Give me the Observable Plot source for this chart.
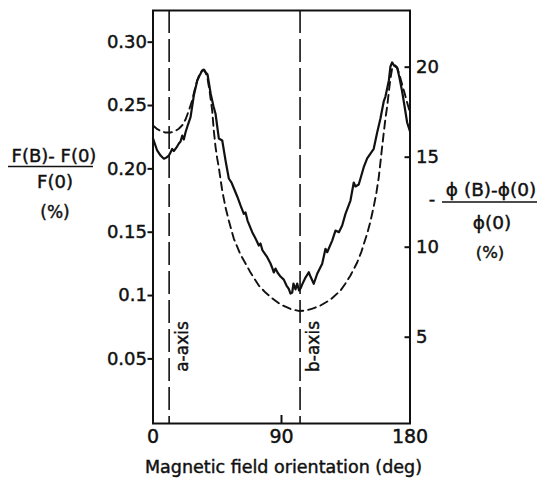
<!DOCTYPE html>
<html>
<head>
<meta charset="utf-8">
<script src="https://cdn.jsdelivr.net/npm/d3@7"></script>
<script src="https://cdn.jsdelivr.net/npm/@observablehq/plot@0.6"></script>
<style>
  html, body { margin: 0; padding: 0; background: #fff; }
  svg { display: block; }
  svg text { stroke: #111; stroke-width: 0.45px; }
</style>
</head>
<body>
<script>
// Solid curve: F(B)-F(0) / F(0) (%), left axis
const solidDeg = [0, 2.9, 5.3, 7.6, 9.5, 11.1, 12.3, 13.4, 14.6, 16.5, 18.1, 19.3, 20.5, 21.6, 22.8, 24.5, 26.3, 28.6, 31.0, 32.6, 34.5, 35.7, 36.8, 38.2, 40.4, 42.4, 43.8, 46.1, 48.5, 50.8, 53.1, 55.0, 56.4, 59.0, 61.3, 63.6, 64.8, 66.2, 69.5, 71.1, 72.5, 74.1, 75.3, 76.7, 80.0, 82.3, 83.7, 84.6, 85.8, 87.2, 89.3, 91.6, 93.5, 95.1, 96.3, 97.5, 98.4, 99.8, 101.0, 102.3, 103.3, 104.6, 106.8, 109.1, 110.3, 112.6, 115.0, 118.5, 120.8, 122.0, 125.5, 127.8, 130.2, 132.5, 134.8, 138.3, 140.6, 141.8, 144.1, 147.6, 150.0, 152.3, 154.6, 157.0, 159.3, 161.6, 162.8, 165.2, 166.3, 167.5, 168.8, 171.0, 172.6, 174.5, 176.1, 178.0, 180];
const solidVal = [0.224, 0.2145, 0.2105, 0.208, 0.209, 0.2105, 0.213, 0.2157, 0.2141, 0.2169, 0.220, 0.2216, 0.2263, 0.2232, 0.2289, 0.235, 0.2408, 0.2579, 0.2698, 0.2737, 0.2777, 0.2784, 0.2763, 0.2745, 0.2593, 0.2492, 0.2435, 0.2240, 0.2224, 0.2066, 0.1924, 0.1892, 0.1853, 0.1782, 0.1711, 0.1645, 0.1656, 0.1592, 0.150, 0.1466, 0.1435, 0.1395, 0.1411, 0.1356, 0.1303, 0.1253, 0.1213, 0.1182, 0.1213, 0.1182, 0.1150, 0.1126, 0.1079, 0.1053, 0.1016, 0.1024, 0.1095, 0.1048, 0.1095, 0.1040, 0.1056, 0.1090, 0.1142, 0.1184, 0.1150, 0.1093, 0.1172, 0.1251, 0.1369, 0.1342, 0.1434, 0.1513, 0.1500, 0.1553, 0.1645, 0.1750, 0.1892, 0.1861, 0.1877, 0.2013, 0.2082, 0.2121, 0.2158, 0.2287, 0.2398, 0.2532, 0.2571, 0.2698, 0.2808, 0.2840, 0.2816, 0.2800, 0.2721, 0.2611, 0.2500, 0.2366, 0.2295];

// Dashed curve: -(phi(B)-phi(0))/phi(0) (%), right axis
const dashDeg = [0, 2.45, 5.25, 8.75, 12.26, 15.06, 18.07, 20.66, 22.76, 24.87, 27.45, 29.07, 30.96, 32.57, 34.46, 36.07, 37.96, 39.57, 41.46, 42.58, 43.77, 44.96, 46.09, 48.47, 50.78, 53.09, 56.59, 61.28, 65.98, 68.29, 74.1, 78.79, 84.61, 89.3, 96.3, 102.1, 106.8, 111.7, 117.3, 124.3, 131.3, 134.8, 138.3, 143.0, 146.0, 150.0, 152.3, 154.6, 156.5, 158.1, 159.3, 160.5, 161.8, 162.8, 164.0, 165.3, 166.3, 167.5, 168.7, 169.8, 171.2, 172.6, 174.5, 176.1, 178.0, 180];
const dashVal = [16.76, 16.59, 16.46, 16.37, 16.37, 16.43, 16.58, 16.79, 17.09, 17.54, 18.15, 18.71, 19.26, 19.59, 19.82, 19.82, 19.48, 18.71, 17.59, 16.48, 15.59, 14.93, 14.43, 13.15, 12.21, 11.48, 10.48, 9.59, 8.93, 8.59, 7.87, 7.48, 7.09, 6.82, 6.57, 6.46, 6.48, 6.59, 6.76, 7.09, 7.59, 7.98, 8.43, 9.15, 9.76, 10.76, 11.43, 12.26, 13.04, 13.87, 14.71, 15.59, 16.48, 17.15, 17.82, 18.71, 19.37, 19.93, 20.09, 20.09, 19.93, 19.59, 19.04, 18.59, 18.04, 17.48];

const xTicks = [0, 90, 180];
const leftTicks = [0.05, 0.1, 0.15, 0.20, 0.25, 0.30];
const leftTickLabels = ["0.05", "0.1", "0.15", "0.20", "0.25", "0.30"];
const rightTicks = [5, 10, 15, 20];
const rightTickLabels = ["5", "10", "15", "20"];
const crystalAxes = [{deg: 11.3, label: "a-axis"}, {deg: 103, label: "b-axis"}];

// right-axis units mapped onto the left-axis scale (from the chart's two axes)
const rToL = r => (18 * r - 5) / 1266.7;

const solid = solidDeg.map((d, i) => ({deg: d, val: solidVal[i]}));
const dashed = dashDeg.map((d, i) => ({deg: d, val: dashVal[i]}));
const leftLab = new Map(leftTicks.map((t, i) => [t, leftTickLabels[i]]));
const rightPos = rightTicks.map(rToL);
const rightLab = new Map(rightPos.map((t, i) => [t, rightTickLabels[i]]));

const ink = "#111";
const font = "DejaVu Sans";

const chart = Plot.plot({
  width: 542,
  height: 479,
  marginLeft: 152.5,
  marginRight: 132.5,
  marginTop: 10,
  marginBottom: 56,
  style: {fontFamily: font, fontSize: "18px", color: ink, background: "#fff"},
  x: {domain: [0, 180], label: null},
  y: {domain: [-0.001, 0.325], label: null},
  marks: [
    Plot.ruleX(crystalAxes, {x: "deg", stroke: ink, strokeWidth: 1.6, strokeDasharray: "23,6"}),
    Plot.text(crystalAxes, {x: "deg", text: "label", frameAnchor: "bottom", dy: -77, dx: 19, rotate: -90, fontSize: 17, fill: ink}),
    Plot.line(dashed, {x: "deg", y: d => rToL(d.val), stroke: ink, strokeWidth: 1.9, strokeDasharray: "8,5"}),
    Plot.line(solid, {x: "deg", y: "val", stroke: ink, strokeWidth: 2.2}),
    Plot.frame({stroke: ink, strokeWidth: 2}),
    Plot.axisY(leftTicks, {anchor: "left", label: null, tickSize: 5, tickPadding: 1, strokeWidth: 2, tickFormat: d => leftLab.get(d), fontSize: 18, fill: ink, stroke: ink}),
    Plot.ruleY(rightPos, {insetLeft: 252, stroke: ink, strokeWidth: 2}),
    Plot.axisY(rightPos, {anchor: "right", label: null, tickSize: 0, tickPadding: 6, tickFormat: d => rightLab.get(d), fontSize: 18, fill: ink}),
    Plot.ruleX(xTicks, {insetTop: 405, stroke: ink, strokeWidth: 2}),
    Plot.axisX(xTicks, {anchor: "bottom", label: null, tickSize: 0, tickPadding: 6, fontSize: 19, fill: ink})
  ]
});
document.body.appendChild(chart);

const svg = d3.select(chart);
function label(x, y, txt, size, anchor = "middle") {
  svg.append("text").attr("x", x).attr("y", y).attr("text-anchor", anchor)
    .attr("font-family", font).attr("font-size", size).attr("fill", ink).text(txt);
}
// left axis title
label(54, 162, "F(B)- F(0)", 18);
svg.append("line").attr("x1", 8).attr("x2", 93).attr("y1", 166.5).attr("y2", 166.5).attr("stroke", ink).attr("stroke-width", 1.6);
label(55, 188, "F(0)", 18);
label(55, 218, "(%)", 17);
// right axis title
label(432, 205, "-", 18);
label(491, 196, "\u03D5 (B)-\u03D5(0)", 18.5);
svg.append("line").attr("x1", 442).attr("x2", 537).attr("y1", 202).attr("y2", 202).attr("stroke", ink).attr("stroke-width", 1.6);
label(492, 229, "\u03D5(0)", 18.5);
label(490, 258, "(%)", 16.5);
// x axis title
label(283.5, 473, "Magnetic field orientation (deg)", 17.5);
</script>
</body>
</html>
